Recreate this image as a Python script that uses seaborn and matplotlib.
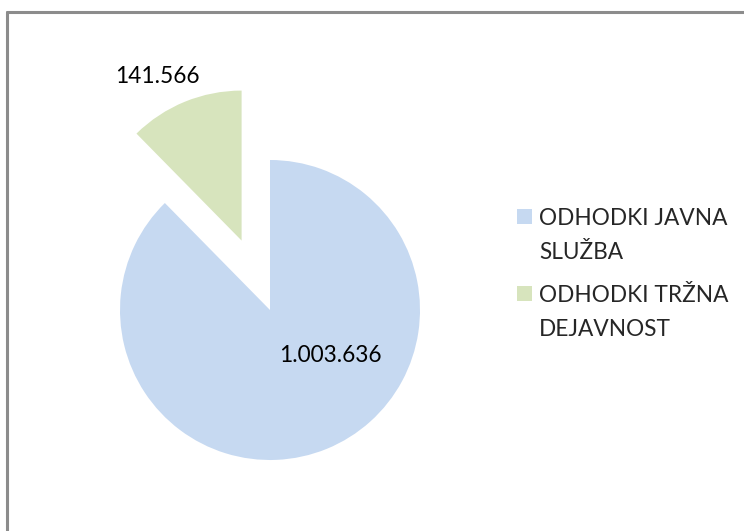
import matplotlib
matplotlib.use("Agg")
import matplotlib.pyplot as plt
from matplotlib.lines import Line2D
from matplotlib.patches import Patch, Rectangle
from matplotlib.legend_handler import HandlerPatch
import seaborn as sns

# data
categories = ["ODHODKI JAVNA\nSLUŽBA", "ODHODKI TRŽNA\nDEJAVNOST"]
values = [1003636, 141566]
value_labels = ["1.003.636", "141.566"]
colors = ["#C6D9F1", "#D7E4BD"]
explode = [0, 0.5]

sns.set_theme(style="white")
plt.rcParams['font.family'] = ['Lato', 'DejaVu Sans']

W, H = 744, 531
fig = plt.figure(figsize=(W / 100, H / 100), dpi=100)

# pie centre at (270, 310) px from top-left, radius 150 px
cx, cy, r = 270, 310, 150
half = 200
ax = fig.add_axes([(cx - half) / W, (H - cy - half) / H, 2 * half / W, 2 * half / H])
wedges, _ = ax.pie(values, colors=colors, startangle=90, counterclock=False,
                   explode=explode, radius=1,
                   wedgeprops=dict(linewidth=0))
lim = half / r
ax.set_xlim(-lim, lim)
ax.set_ylim(-lim, lim)
ax.set_aspect("equal")
ax.axis("off")

# value labels
label_pos = [(0.4, -0.3), (-0.75, 1.56)]
for txt, (x, y) in zip(value_labels, label_pos):
    ax.text(x, y, txt, ha="center", va="center", fontsize=16.3, color="black", clip_on=False)

fs = 16.3
spacing = 1.72


def top_square(legend, orig_handle, xdescent, ydescent, width, height, fontsize):
    # put the square next to the first line of a two-line label
    shift = 0.5 * spacing * fontsize
    return Rectangle((-xdescent, -ydescent + shift), width, height)


handles = [Patch(facecolor=c, edgecolor="none") for c in colors]
leg = fig.legend(handles, categories, loc="center left",
                 bbox_to_anchor=(508 / W, (H - 274) / H), frameon=False,
                 borderaxespad=0, fontsize=fs, handlelength=0.68, handleheight=0.68,
                 handletextpad=0.3, labelspacing=1.0,
                 handler_map={Patch: HandlerPatch(patch_func=top_square)})
for t in leg.get_texts():
    t.set_linespacing(spacing)

# chart border (top and left visible)
fig.add_artist(Line2D([7 / W, 7 / W], [0, (H - 12) / H], color="#8C8C8C", lw=2.2))
fig.add_artist(Line2D([7 / W, 1], [(H - 12) / H, (H - 12) / H], color="#8C8C8C", lw=2.2))

fig.savefig("out.png", dpi=100)
